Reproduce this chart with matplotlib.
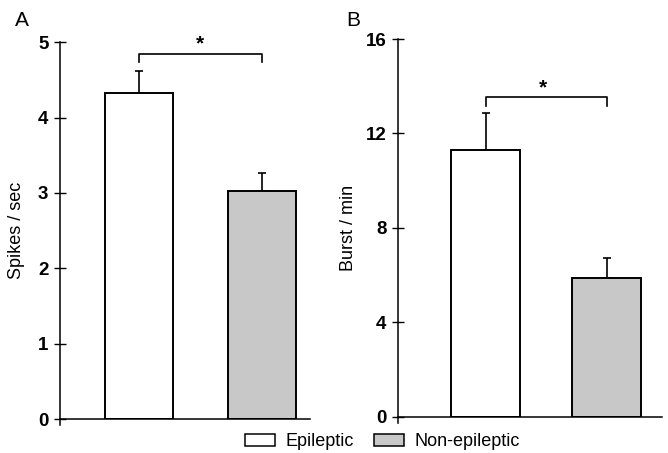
import numpy as np
import matplotlib.pyplot as plt
from matplotlib.patches import Patch

plt.rcParams['font.family'] = ['Liberation Sans', 'DejaVu Sans']

# Data
groups = ['Epileptic', 'Non-epileptic']
spikes_mean = [4.33, 3.02]
spikes_err = [0.29, 0.25]
burst_mean = [11.3, 5.9]
burst_err = [1.55, 0.85]
colors = ['white', '#c8c8c8']

fig = plt.figure(figsize=(6.68, 4.53), dpi=100)
axA = fig.add_axes([0.0898, 0.075, 0.374, 0.832])
axB = fig.add_axes([0.596, 0.0795, 0.395, 0.8344])

panels = [
    (axA, spikes_mean, spikes_err, 'Spikes / sec', [0, 5], np.arange(0, 6, 1),
     (-0.646, 1.386), 0.553, (4.84, 4.73), (0.49, 4.97), -0.14, -0.08),
    (axB, burst_mean, burst_err, 'Burst / min', [0, 16], np.arange(0, 17, 4),
     (-0.72, 1.453), 0.568, (13.56, 13.18), (0.47, 13.93), -0.155, -0.25),
]

for ax, mean, err, ylabel, ylim, yticks, xlim, width, brk, star, lab_x, sp_lo in panels:
    x = np.arange(len(mean))
    ax.bar(x, mean, width=width, color=colors, edgecolor='black', linewidth=1.4, zorder=2)
    ax.errorbar(x, mean, yerr=[np.zeros(len(err)), err], fmt='none', ecolor='black',
                elinewidth=1.2, capsize=3, capthick=1.2, zorder=1)
    # significance bracket
    ax.plot([0, 0, 1, 1], [brk[1], brk[0], brk[0], brk[1]], color='black', lw=1.2,
            clip_on=False)
    ax.text(star[0], star[1], '*', ha='center', va='center', fontsize=15, fontweight='bold')

    ax.set_xlim(*xlim)
    ax.set_ylim(*ylim)
    ax.set_yticks(yticks)
    ax.set_xticks([])
    ax.spines['top'].set_visible(False)
    ax.spines['right'].set_visible(False)
    ax.spines['left'].set_bounds(ylim[0] + sp_lo, ylim[1])
    ax.spines['left'].set_linewidth(1.1)
    ax.spines['bottom'].set_linewidth(1.1)
    ax.tick_params(axis='y', direction='inout', length=8.6, width=1.0, pad=4,
                   labelsize=13.5)
    for lbl in ax.get_yticklabels():
        lbl.set_fontweight('bold')
    ax.set_ylabel(ylabel, fontsize=13)
    ax.yaxis.set_label_coords(lab_x, 0.5)

fig.text(0.022, 0.955, 'A', fontsize=15, va='center', ha='left')
fig.text(0.518, 0.955, 'B', fontsize=15, va='center', ha='left')

handles = [Patch(facecolor=c, edgecolor='black', linewidth=1.1) for c in colors]
fig.legend(handles, groups, loc='center', bbox_to_anchor=(0.572, 0.025), ncol=2,
           frameon=False, fontsize=13, handlelength=1.7, handleheight=0.7,
           handletextpad=0.55, columnspacing=1.1, borderpad=0)

fig.savefig('out.png', dpi=100)
